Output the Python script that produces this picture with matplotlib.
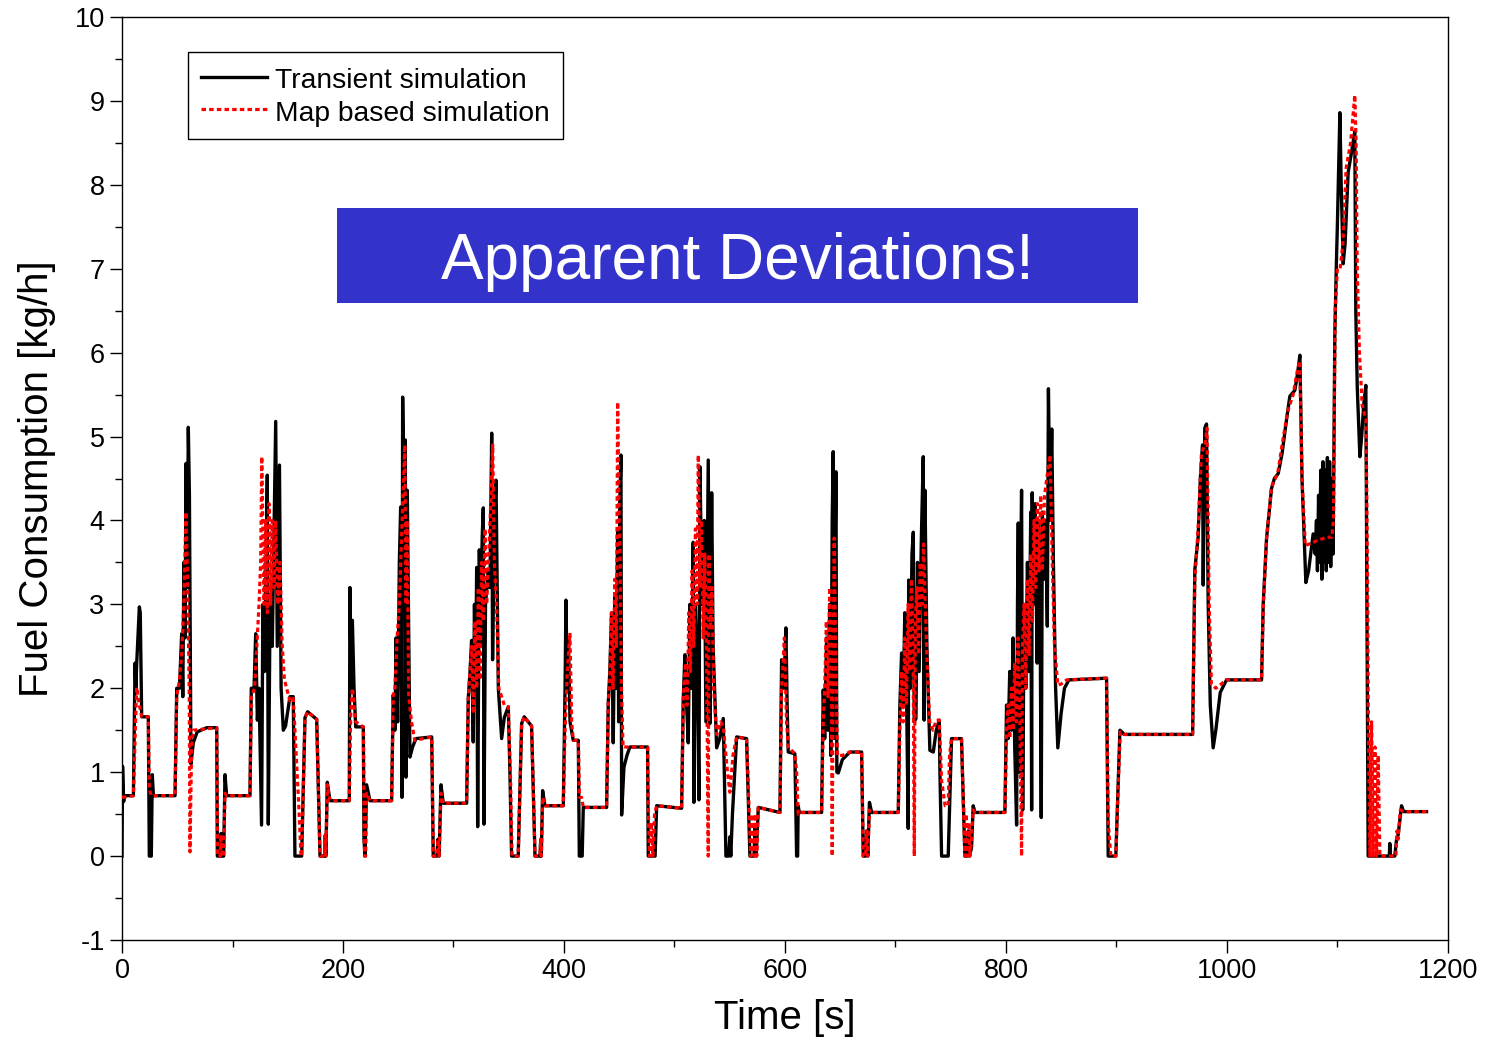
import matplotlib
matplotlib.use("Agg")
import matplotlib.pyplot as plt
from matplotlib.patches import Rectangle
import numpy as np

plt.rcParams['font.family'] = ['Liberation Sans', 'DejaVu Sans']
plt.rcParams['axes.unicode_minus'] = False

# (time [s], fuel consumption [kg/h])
transient_pts = [
    (0, 0.0), (0.5, 1.07), (1.5, 0.65), (2, 0.72), (10.3, 0.72), (11.8, 2.3), (12.5, 2.0),
    (13.3, 2.3), (15.7, 2.97), (16.5, 2.9), (17.8, 1.66), (23.8, 1.66), (24.7, 0.0), (26.5, 0.0),
    (27.4, 0.97), (28.4, 0.72), (48, 0.72), (49.5, 2.0), (52, 2.0), (54, 2.65), (55, 1.9),
    (56, 3.5), (57, 2.6), (58, 4.68), (59, 3.2), (60, 5.11), (61, 4.3), (62.4, 1.1), (64.5, 1.35),
    (68, 1.48), (76.6, 1.53), (85.7, 1.53), (86.3, 0.0), (89, 0.0), (89.7, 0.27), (90.5, 0.0),
    (92, 0.0), (93.2, 0.97), (94.7, 0.72),
    (115.8, 0.72), (117, 2.0), (119.5, 2.0), (121, 2.65), (122.5, 1.62), (124, 2.0), (126.3, 0.37),
    (127.5, 3.0), (129, 2.2), (131.5, 4.54), (132.4, 0.38), (134, 3.0), (136, 2.5), (139.1, 5.18),
    (140.5, 2.5), (142.5, 4.66), (144, 2.0), (146, 1.5), (148, 1.55), (152, 1.9), (155, 1.9),
    (156.5, 0.0), (162.6, 0.0), (165.6, 1.65), (168, 1.72), (176.2, 1.63), (179.2, 0.0),
    (183.5, 0.0), (184, 0.25), (184.5, 0.0), (185.8, 0.88), (188.2, 0.66),
    (205.7, 0.66), (206.3, 3.2), (207.5, 2.0), (208.5, 2.81), (210, 2.0), (211.5, 1.54),
    (218.4, 1.54), (219, 0.2), (220, 0.0), (221.4, 0.85), (224.4, 0.66),
    (244, 0.66), (245.5, 1.92), (247, 1.5), (248, 2.6), (249.5, 1.6), (251, 3.5), (252.2, 4.16),
    (253.4, 0.7), (254, 5.47), (255.5, 4.0), (256.4, 4.96), (257, 0.94), (258.2, 4.36),
    (260.6, 1.18), (263, 1.3), (266, 1.4), (280.3, 1.42), (281.7, 0.0), (285, 0.0), (286, 0.2),
    (287, 0.0), (288.7, 0.85), (290.8, 0.63),
    (311.9, 0.63), (313.4, 1.88), (315, 2.2), (316.4, 2.57), (317.9, 1.36), (319, 3.0), (320, 2.0),
    (321, 3.44), (321.9, 0.35), (323.4, 3.65), (324.5, 2.5), (326, 3.8), (327, 4.15), (327.6, 0.38),
    (329, 3.0), (331.5, 3.4), (333, 3.2), (334.6, 5.04), (335.4, 2.34), (337, 4.0), (338.5, 4.48),
    (340.6, 2.0), (343.6, 1.4), (346, 1.65), (349.6, 1.78), (351.1, 1.0), (352.6, 0.0),
    (358.6, 0.0), (361.7, 1.58), (364, 1.66), (370.7, 1.55), (373.8, 0.0), (378.3, 0.0),
    (379, 0.2), (379.5, 0.0), (380.7, 0.78), (382.8, 0.6),
    (399.4, 0.6), (401, 2.0), (401.8, 3.05), (403, 2.0), (404, 2.6), (405.5, 1.6), (408.4, 1.38),
    (413, 1.38), (413.9, 0.0), (416.5, 0.0), (417.5, 0.58),
    (438.6, 0.58), (440.1, 1.82), (441.5, 2.2), (443.1, 2.9), (444.6, 1.35), (446.2, 3.1),
    (447.2, 2.0), (448.6, 3.9), (449.5, 1.6), (450.5, 4.2), (451.6, 4.78), (452.2, 0.49),
    (454.3, 1.06), (457, 1.2), (459.7, 1.3), (475.7, 1.3), (476.3, 0.0), (482.5, 0.0),
    (483.9, 0.6), (506.5, 0.57),
    (508, 1.88), (509.5, 2.4), (511, 1.8), (512.5, 1.35), (514, 3.0), (515.5, 2.0), (517, 3.74),
    (517.6, 0.64), (519, 3.0), (520.5, 2.4), (522.2, 0.67), (523.1, 4.64), (525, 3.0), (527, 4.0),
    (528.5, 1.6), (530.6, 4.72), (532.1, 1.58), (533.7, 4.33), (535, 2.5), (538.2, 1.29),
    (541, 1.4), (544.2, 1.64), (546.6, 0.0), (549, 0.0), (550.2, 0.23), (551, 0.0), (552.5, 0.5),
    (556.3, 1.42), (565.3, 1.4), (568.3, 0.0), (572, 0.0), (573, 0.35), (574, 0.0), (575.9, 0.58),
    (595.5, 0.52), (597, 2.34), (599, 2.0), (600.9, 2.72), (602, 1.8), (603, 1.24), (609, 1.22),
    (610.6, 0.0), (611.5, 0.0), (612, 0.6), (613, 0.52),
    (633.2, 0.52), (634.7, 1.98), (636, 1.4), (637.7, 2.6), (639, 1.5), (640.5, 3.0), (641.5, 1.2),
    (642.8, 4.0), (643.7, 4.82), (644.5, 1.4), (645.3, 3.5), (646.2, 4.58), (647, 1.0),
    (648.3, 0.99), (652, 1.15), (658.8, 1.24), (669.4, 1.24), (670.9, 0.0), (673, 0.0),
    (674, 0.3), (675, 0.0), (676.5, 0.64), (678.5, 0.52),
    (702.6, 0.52), (704, 1.78), (705.6, 2.42), (707, 1.8), (708.5, 2.9), (710, 2.0), (711.6, 0.33),
    (712, 3.29), (713.5, 2.0), (715, 3.6), (716.2, 3.86), (717, 1.6), (718.6, 1.64), (720, 3.5),
    (721.5, 2.2), (723.5, 3.8), (725.2, 4.76), (726, 1.62), (726.7, 4.36), (728.5, 2.5),
    (731.2, 1.26), (734.3, 1.24), (737, 1.5), (739.7, 1.62), (740.3, 1.0), (741.8, 0.0),
    (747.8, 0.0), (750.8, 1.4), (759.8, 1.4), (762.9, 0.0), (765, 0.0), (766, 0.3), (767, 0.0),
    (768.9, 0.1), (770.4, 0.6), (772, 0.52),
    (799.1, 0.52), (800.6, 1.8), (802, 1.4), (803.5, 2.2), (805, 1.5), (806.5, 2.6), (808, 1.3),
    (809.7, 0.37), (810.5, 3.0), (811.2, 3.97), (812.2, 1.0), (813.2, 3.2), (814.2, 4.36),
    (815.2, 0.55), (816.5, 3.0), (818, 2.0), (819.5, 3.5), (821, 2.2), (822.5, 4.1), (823.3, 0.55),
    (823.8, 4.33), (825, 3.0), (826.5, 4.2), (828.3, 2.3), (829.5, 4.0), (831, 2.8), (832, 0.46),
    (833, 4.1), (834.5, 3.3), (836, 4.0), (837.5, 2.74), (838.5, 5.57), (840, 4.0), (841.5, 5.09),
    (843, 3.5), (845, 2.0), (847, 1.29), (850, 1.7), (853, 2.0), (857, 2.1), (891.1, 2.12),
    (892.6, 0.0), (899.5, 0.0), (903.2, 1.5), (905, 1.48), (907, 1.45), (969, 1.45),
    (971, 3.41), (974, 3.8), (976, 4.5), (978, 4.9), (978.6, 3.23), (980, 5.1), (981.6, 5.15),
    (983.1, 3.0), (985, 1.8), (987.6, 1.29), (990, 1.5), (994, 1.95), (999.7, 2.1), (1031.4, 2.1),
    (1032.9, 3.0), (1035.9, 3.78), (1040.4, 4.38), (1043, 4.5), (1046.5, 4.56), (1050, 4.8),
    (1054, 5.2), (1057, 5.48), (1061.5, 5.55), (1064, 5.75), (1066.1, 5.97), (1068, 4.5),
    (1071.5, 3.26), (1074, 3.4), (1078.1, 3.84), (1080, 3.6), (1081.1, 4.0), (1082, 3.4),
    (1083, 4.3), (1084, 3.5), (1085, 4.6), (1086, 3.3), (1087, 4.7), (1088, 3.5), (1089, 4.6),
    (1090, 3.4), (1091, 4.75), (1092, 3.5), (1093, 4.7), (1094, 3.45), (1095, 4.5), (1096.2, 3.6),
    (1097.7, 6.2), (1099, 7.0), (1100, 7.5), (1102.3, 8.86), (1103.5, 8.0), (1105.3, 7.06),
    (1107, 7.3), (1109.8, 8.15), (1113, 8.4), (1115.8, 8.64), (1116.7, 6.5), (1118, 5.6),
    (1120.4, 4.76), (1122, 5.0), (1124, 5.4), (1125.8, 5.61), (1127.9, 0.0), (1147, 0.0),
    (1147.5, 0.15), (1148, 0.0), (1152, 0.0), (1153.6, 0.2), (1155, 0.25), (1158.1, 0.6),
    (1160, 0.53), (1180.7, 0.53),
]

map_pts = [
    (0, 0.7), (10.3, 0.72), (12, 1.5), (13.3, 2.01), (15, 1.85), (17.8, 1.66), (23.8, 1.66),
    (24.7, 0.8), (26.5, 0.72), (48, 0.72), (49.5, 1.9), (52, 2.1), (54, 2.4), (56, 3.0),
    (57.9, 4.1), (59.5, 3.2), (60.8, 2.0), (61.5, 0.05), (63, 1.3), (64.5, 1.5), (85.7, 1.53),
    (86.5, 0.0), (89, 0.0), (89.7, 0.25), (90.5, 0.0), (92, 0.0), (93.2, 0.75), (94.7, 0.72),
    (115.8, 0.72), (117, 1.9), (120, 2.0), (122, 2.5), (124, 3.0), (125.5, 3.5), (126.5, 4.76),
    (128.5, 3.0), (130, 4.0), (131.5, 2.9), (133, 4.2), (134.5, 3.0), (136, 4.0), (137.5, 3.2),
    (139, 4.0), (141, 3.0), (143, 3.5), (145, 2.5), (147, 2.1), (152, 1.85), (155, 1.88),
    (156.5, 1.5), (160, 0.6), (162, 0.0), (162.6, 0.0), (165.6, 1.65), (168, 1.72), (176.2, 1.63),
    (179.2, 0.0), (183.5, 0.0), (184, 0.25), (184.5, 0.0), (185.8, 0.85), (188.2, 0.66),
    (205.7, 0.66), (207, 1.7), (208.5, 2.0), (210, 1.8), (211.5, 1.6), (218.4, 1.54),
    (219.5, 0.0), (220.5, 0.0), (221.4, 0.75), (224.4, 0.66),
    (244, 0.66), (245.5, 1.92), (247, 2.0), (249, 2.6), (251, 3.0), (253, 3.8), (256, 4.9),
    (257, 3.0), (258, 4.0), (259.5, 1.9), (262, 1.6), (265, 1.38), (280.3, 1.42), (281.7, 0.0),
    (285, 0.0), (286, 0.2), (287, 0.0), (288.7, 0.75), (290.8, 0.63),
    (311.9, 0.63), (313.4, 1.88), (315, 2.2), (316.5, 2.5), (318, 1.7), (319.5, 2.8), (321, 2.0),
    (322.5, 3.2), (324, 2.1), (325.5, 3.5), (327, 2.8), (328.5, 3.9), (330, 3.0), (332, 3.6),
    (334, 4.3), (335.5, 4.9), (337, 3.5), (339, 3.0), (341, 2.0), (343.6, 1.9), (346, 1.8),
    (349.6, 1.78), (351.5, 1.0), (353, 0.0), (358.6, 0.0), (361.7, 1.58), (364, 1.66),
    (370.7, 1.55), (373.8, 0.0), (378.3, 0.0), (379, 0.2), (379.5, 0.0), (380.7, 0.7), (382.8, 0.6),
    (399.4, 0.6), (401, 1.5), (403, 2.2), (405.4, 2.66), (407, 1.6), (408.4, 1.38), (413, 1.38),
    (414, 0.7), (416, 0.7), (417.5, 0.58),
    (438.6, 0.58), (440.1, 1.82), (441.5, 2.1), (443, 2.9), (444.5, 2.0), (446, 3.3),
    (447.5, 2.5), (448.6, 5.41), (450, 4.0), (451, 3.5), (452, 2.0), (453.5, 1.3), (475.7, 1.3),
    (476.3, 0.55), (477.5, 0.0), (479, 0.4), (480.5, 0.0), (482, 0.5), (483.9, 0.6), (506.5, 0.57),
    (508, 1.88), (510, 2.3), (511.5, 1.8), (513, 2.9), (514.5, 2.2), (516, 3.4), (517.5, 2.5),
    (519, 3.9), (520.5, 3.0), (521.6, 4.78), (523, 3.2), (524.5, 4.0), (526, 2.6), (527.5, 3.6),
    (529, 2.5), (530.6, 0.0), (531.2, 3.6), (532.5, 2.7), (534, 3.2), (535.5, 2.0), (538.2, 1.45),
    (542, 1.6), (544.2, 1.55), (548, 1.0), (550.2, 0.76), (553, 1.2), (556.3, 1.42), (565.3, 1.4),
    (567.5, 0.55), (569, 0.0), (570.5, 0.5), (572, 0.0), (573.5, 0.5), (574.5, 0.0), (575.9, 0.58),
    (595.5, 0.52), (597, 2.0), (599.5, 2.6), (601.5, 1.6), (603, 1.3), (609, 1.22),
    (610.6, 1.0), (612, 0.5), (613, 0.52),
    (633.2, 0.52), (634.7, 1.6), (636, 2.0), (637.5, 2.8), (639, 1.9), (640.5, 3.2), (642, 2.2),
    (642.8, 0.0), (643.5, 2.0), (644.6, 3.79), (646, 2.4), (647.5, 1.2), (652, 1.2),
    (658.8, 1.24), (669.4, 1.24), (670.9, 0.0), (673, 0.0), (674, 0.3), (675, 0.0), (676.5, 0.55),
    (678.5, 0.52),
    (702.6, 0.52), (704, 1.5), (705.5, 2.2), (707, 1.6), (708.5, 2.6), (710, 1.8), (711.5, 3.0),
    (713, 2.2), (714.5, 3.3), (716, 2.5), (717.1, 0.0), (718, 2.8), (719.5, 3.2), (721, 2.4),
    (722.5, 3.5), (724, 3.0), (725.5, 3.72), (727, 3.0), (729, 2.2), (731, 1.6), (734, 1.5),
    (737, 1.62), (739.7, 1.62), (741.8, 0.9), (745, 0.6), (747.8, 0.6), (749, 1.2), (750.8, 1.4),
    (759.8, 1.4), (762.9, 0.0), (764, 0.5), (765, 0.0), (766.5, 0.4), (767.5, 0.0), (768.9, 0.2),
    (770.4, 0.55), (772, 0.52),
    (799.1, 0.52), (800.6, 1.5), (802, 1.8), (803.5, 1.4), (805, 2.0), (806.5, 1.5), (808, 2.3),
    (809.5, 1.6), (811, 2.6), (812.5, 1.8), (814.2, 0.0), (815, 2.5), (816.5, 3.0), (818, 2.0),
    (819.5, 3.3), (821, 2.4), (822.5, 3.6), (824, 2.8), (825.5, 4.0), (827, 3.2), (828.5, 4.2),
    (830, 3.4), (831.5, 4.3), (833, 3.4), (835, 4.3), (837, 4.5), (840, 4.78), (842, 3.5),
    (844, 2.5), (847, 2.04), (850, 2.05), (855, 2.1), (891.1, 2.12),
    (892.6, 0.4), (895, 0.0), (899.5, 0.0), (901, 0.6), (903.5, 1.48), (907, 1.45), (969, 1.45),
    (971, 3.3), (974, 3.9), (977, 4.8), (980, 4.9), (982, 5.1), (984, 3.0), (986, 2.05), (990, 2.0),
    (995, 2.05), (999, 2.1), (1031.4, 2.1), (1033, 3.0), (1036, 3.8), (1040.4, 4.4), (1046, 4.56),
    (1050, 4.9), (1055, 5.3), (1060, 5.5), (1064, 5.8), (1066, 5.9), (1068, 4.5), (1071, 3.7),
    (1080, 3.75), (1090, 3.8), (1095, 3.8), (1096.5, 4.0), (1098, 6.5), (1100, 7.0),
    (1102.5, 7.0), (1105, 7.3), (1108, 8.2), (1112, 8.5), (1115.8, 9.07), (1117, 8.5),
    (1118, 7.0), (1120, 6.0), (1122.5, 5.37), (1126, 5.2), (1127.5, 3.0), (1128, 1.6),
    (1129.5, 0.0), (1131, 1.6), (1132.5, 0.0), (1134, 1.3), (1135.5, 0.0), (1137, 1.2),
    (1138.5, 0.0), (1153, 0.0), (1154, 0.3), (1155, 0.2), (1157, 0.55), (1160, 0.53),
    (1180.7, 0.53),
]

series_labels = ["Transient simulation", "Map based simulation"]
annotation = "Apparent Deviations!"
x_ticks = [0, 200, 400, 600, 800, 1000, 1200]
y_ticks = list(range(-1, 11))

t_tr, fc_tr = np.array(transient_pts).T
t_map, fc_map = np.array(map_pts).T

fig = plt.figure(figsize=(14.88, 10.39), dpi=100)
ax = fig.add_axes([0.082, 0.0953, 0.891, 0.8883])

ax.plot(t_tr, fc_tr, color="black", lw=2.4, label=series_labels[0], zorder=3)
ax.plot(t_map, fc_map, color="#ff0000", lw=2.3, ls=(0, (1.4, 1.0)), label=series_labels[1], zorder=4)

ax.set_xlim(0, 1200)
ax.set_ylim(-1, 10)
ax.set_xticks(x_ticks)
ax.set_xticks(np.arange(100, 1200, 200), minor=True)
ax.set_yticks(y_ticks)
ax.set_yticks(np.arange(-0.5, 10, 1), minor=True)
ax.tick_params(axis="both", which="major", direction="out", length=9, width=1,
               labelsize=19.5, top=False, right=False)
ax.tick_params(axis="both", which="minor", direction="out", length=5, width=1,
               top=False, right=False)
ax.tick_params(axis="x", pad=4)
for s in ax.spines.values():
    s.set_linewidth(1)

ax.set_xlabel("Time [s]", fontsize=29, labelpad=11)
ax.set_ylabel("Fuel Consumption [kg/h]", fontsize=29, labelpad=13)

leg = ax.legend(loc="upper left", bbox_to_anchor=(0.0498, 0.962), borderaxespad=0,
                fontsize=20.3, handlelength=2.35, handletextpad=0.3, labelspacing=0.1,
                handleheight=1.15, borderpad=0.45, fancybox=False, framealpha=1,
                edgecolor="black")
leg.get_frame().set_linewidth(1)

ax.add_patch(Rectangle((0.1621, 0.690), 0.6041, 0.103, transform=ax.transAxes,
                       facecolor="#3333cc", edgecolor="none", zorder=5))
ax.text(0.1621 + 0.6041 / 2, 0.690 + 0.103 / 2 - 0.007, annotation, transform=ax.transAxes,
        ha="center", va="center", color="white", fontsize=46, zorder=6)

fig.savefig("out.png", dpi=100)
